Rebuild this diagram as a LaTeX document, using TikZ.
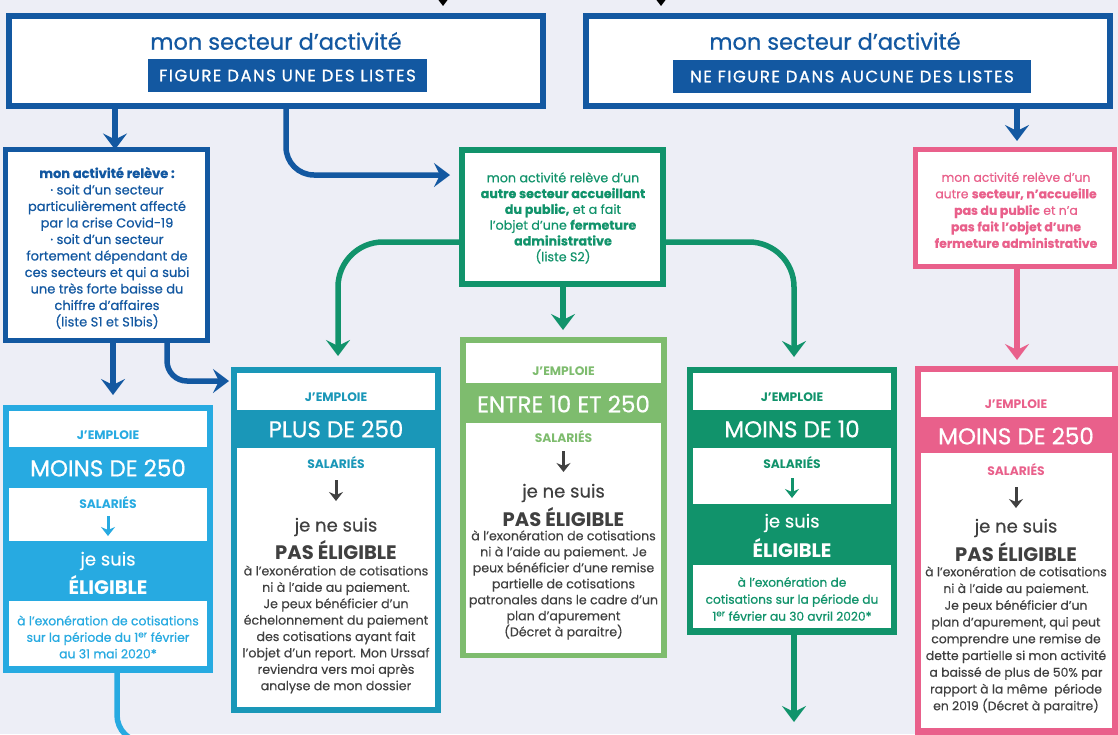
\documentclass[tikz,border=0pt]{standalone}
\usepackage{fontspec}
\setmainfont{Poppins}
\newfontfamily\pmed{Poppins}[FakeBold=0.7]
\newfontfamily\plit{Poppins}[FakeBold=0.3]
\newfontfamily\pban{Poppins}[FakeBold=0.9,LetterSpace=9]
\usetikzlibrary{arrows.meta}
\definecolor{bgc}{HTML}{EDEEF6}
\definecolor{dblue}{HTML}{1358A1}
\definecolor{lblue}{HTML}{27AAE1}
\definecolor{teal}{HTML}{1A97B8}
\definecolor{dgreen}{HTML}{11936B}
\definecolor{lgreen}{HTML}{7EBC6E}
\definecolor{pinkc}{HTML}{E9608B}
\definecolor{graytxt}{HTML}{404040}
\begin{document}
\begin{tikzpicture}[x=1pt,y=-1pt,
  every node/.style={inner sep=0pt, outer sep=0pt},
  frame/.style={draw=#1, fill=white, anchor=north west},
  colbox/.style={fill=#1, anchor=north west},
  panel/.style={fill=white, anchor=north west},
  conn/.style={draw=#1, line width=5.5pt, -{Stealth[length=16pt,width=24pt,inset=6pt]}},
  mini/.style={draw=#1, line width=3pt, -{Stealth[length=9pt,width=14pt,inset=3pt]}},
  txt/.style={align=center, text=#1},
  emp/.style={text=#1, font=\bfseries\fontsize{12.3}{14}\selectfont},
  band/.style={text=white, font=\pmed\fontsize{23}{26}\selectfont},
  eliga/.style={text=#1, font=\plit\fontsize{18}{21}\selectfont},
  eligb/.style={text=#1, font=\bfseries\fontsize{19.5}{22}\selectfont},
  body/.style={align=center, text=#1, font=\plit\fontsize{12.6}{16.4}\selectfont},
]
\useasboundingbox (0,0) rectangle (1118,734);
\clip (0,0) rectangle (1118,734);
\fill[bgc] (0,0) rectangle (1118,734);

% ---- top boxes
\node[frame=dblue, line width=6pt, minimum width=534pt, minimum height=90pt] (T1) at (9,16) {};
\node[frame=dblue, line width=6pt, minimum width=524pt, minimum height=90pt] (T2) at (586,16) {};
\node[text=dblue, font=\pmed\fontsize{22.5}{26}\selectfont] (t1) at (276,41) {mon secteur d’activité};
\node[text=dblue, font=\pmed\fontsize{22.5}{26}\selectfont] (t2) at (835,41) {mon secteur d’activité};
\node[colbox=dblue, minimum width=279pt, minimum height=33pt, text=white, font=\pban\fontsize{16.5}{18}\selectfont] (ban1) at (148,59) {FIGURE DANS UNE DES LISTES};
\node[colbox=dblue, minimum width=358pt, minimum height=33pt, text=white, font=\pban\fontsize{16.5}{18}\selectfont] (ban2) at (673,60) {NE FIGURE DANS AUCUNE DES LISTES};

% ---- second row
\node[frame=dblue, line width=5pt, minimum width=202pt, minimum height=191pt] (B1) at (5.5,149.5) {};
\node[txt=dblue, font=\pmed\fontsize{13}{16.5}\selectfont] (b1t) at (107,248) {\textbf{mon activité relève :}\\ · soit d’un secteur\\ particulièrement affecté\\ par la crise Covid-19\\ · soit d’un secteur\\ fortement dépendant de\\ ces secteurs et qui a subi\\ une très forte baisse du\\ chiffre d’affaires\\ {\plit(liste S1 et S1bis)}};

\node[frame=dgreen, line width=6pt, minimum width=201pt, minimum height=134pt] (G0) at (462,150) {};
\node[txt=dgreen, font=\plit\fontsize{12.7}{15.8}\selectfont] (g0t) at (563,218) {mon activité relève d’un\\ \textbf{autre secteur accueillant}\\ \textbf{du public,} et a fait\\ l’objet d’une \textbf{fermeture}\\ \textbf{administrative}\\ (liste S2)};

\node[frame=pinkc, line width=5pt, minimum width=199pt, minimum height=117pt] (P0) at (915.5,149.5) {};
\node[txt=pinkc, font=\plit\fontsize{12.4}{16.5}\selectfont] (p0t) at (1016,210) {mon activité relève d’un\\ autre \textbf{secteur, n’accueille}\\ \textbf{pas du public} et n’a\\ \textbf{pas fait l’objet d’une}\\ \textbf{fermeture administrative}};

% ---- bottom: light blue
\node[colbox=lblue, minimum width=210pt, minimum height=268pt] (L) at (3,405) {};
\node[panel, minimum width=198pt, minimum height=36pt] (L1) at (9,411) {};
\node[panel, minimum width=198pt, minimum height=53pt] (L2) at (9,488) {};
\node[panel, minimum width=198pt, minimum height=65pt] (L3) at (9,601) {};
\node[emp=lblue] (Lj) at (108,435) {J’EMPLOIE};
\node[band] (Lm) at (108,468) {MOINS DE 250};
\node[emp=lblue] (Ls) at (108,503) {SALARIÉS};
\coordinate (La) at (108,516);
\coordinate (Lb) at (108,536);
\draw[mini=lblue] (La) -- (Lb);
\node[eliga=white] (Le1) at (108,561) {je suis};
\node[eligb=white] (Le2) at (108,585) {ÉLIGIBLE};
\node[body=lblue, font=\pmed\fontsize{12.4}{16.5}\selectfont] (Lt) at (108,637) {à l’exonération de cotisations\\ sur la période du 1\textsuperscript{er} février\\ au 31 mai 2020*};

% ---- bottom: teal
\node[colbox=teal, minimum width=210pt, minimum height=346pt] (PL) at (231,367) {};
\node[panel, minimum width=198pt, minimum height=37pt] (PL1) at (237,373) {};
\node[panel, minimum width=198pt, minimum height=259pt] (PL2) at (237,448) {};
\node[emp=teal] (PLj) at (336,397) {J’EMPLOIE};
\node[band] (PLm) at (336,429) {PLUS DE 250};
\node[emp=teal] (PLs) at (336,463) {SALARIÉS};
\coordinate (PLa) at (336,480);
\coordinate (PLb) at (336,501);
\draw[mini=graytxt] (PLa) -- (PLb);
\node[eliga=graytxt] (PLe1) at (336,527) {je ne suis};
\node[eligb=graytxt] (PLe2) at (336,550) {PAS ÉLIGIBLE};
\node[body=graytxt] (PLt) at (336,629.5) {à l’exonération de cotisations\\ ni à l’aide au paiement.\\ Je peux bénéficier d’un\\ échelonnement du paiement\\ des cotisations ayant fait\\ l’objet d’un report. Mon Urssaf\\ reviendra vers moi après\\ analyse de mon dossier};

% ---- bottom: light green
\node[colbox=lgreen, minimum width=207pt, minimum height=321pt] (EN) at (460,337) {};
\node[panel, minimum width=195pt, minimum height=40pt] (EN1) at (466,343) {};
\node[panel, minimum width=195pt, minimum height=230pt] (EN2) at (466,423) {};
\node[emp=lgreen] (ENj) at (563.5,371) {J’EMPLOIE};
\node[band] (ENm) at (563.5,404) {ENTRE 10 ET 250};
\node[emp=lgreen] (ENs) at (563.5,437) {SALARIÉS};
\coordinate (ENa) at (563.5,451);
\coordinate (ENb) at (563.5,472);
\draw[mini=graytxt] (ENa) -- (ENb);
\node[eliga=graytxt] (ENe1) at (563.5,493) {je ne suis};
\node[eligb=graytxt] (ENe2) at (563.5,517) {PAS ÉLIGIBLE};
\node[body=graytxt, font=\plit\fontsize{12.6}{16}\selectfont] (ENt) at (563.5,585) {à l’exonération de cotisations\\ ni à l’aide au paiement. Je\\ peux bénéficier d’une remise\\ partielle de cotisations\\ patronales dans le cadre d’un\\ plan d’apurement\\ (Décret à paraitre)};

% ---- bottom: dark green
\node[colbox=dgreen, minimum width=210pt, minimum height=268pt] (M) at (687,367) {};
\node[panel, minimum width=198pt, minimum height=37pt] (M1) at (693,373) {};
\node[panel, minimum width=198pt, minimum height=56pt] (M2) at (693,448) {};
\node[panel, minimum width=198pt, minimum height=63pt] (M3) at (693,565) {};
\node[emp=dgreen] (Mj) at (792,397) {J’EMPLOIE};
\node[band] (Mm) at (792,429) {MOINS DE 10};
\node[emp=dgreen] (Ms) at (792,463) {SALARIÉS};
\coordinate (Ma) at (792,478);
\coordinate (Mb) at (792,498);
\draw[mini=dgreen] (Ma) -- (Mb);
\node[eliga=white] (Me1) at (792,523) {je suis};
\node[eligb=white] (Me2) at (792,548) {ÉLIGIBLE};
\node[body=dgreen, font=\pmed\fontsize{12.2}{17}\selectfont] (Mt) at (792,599) {à l’exonération de\\ cotisations sur la période du\\ 1\textsuperscript{er} février au 30 avril 2020*};

% ---- bottom: pink
\node[colbox=pinkc, minimum width=203pt, minimum height=380pt] (K) at (915,366) {};
\node[panel, minimum width=191pt, minimum height=45pt] (K1) at (921,372) {};
\node[panel, minimum width=191pt, minimum height=275pt] (K2) at (921,453) {};
\node[emp=pinkc] (Kj) at (1016,404) {J’EMPLOIE};
\node[band] (Km) at (1016,436) {MOINS DE 250};
\node[emp=pinkc] (Ks) at (1016,470) {SALARIÉS};
\coordinate (Ka) at (1016,487);
\coordinate (Kb) at (1016,508);
\draw[mini=graytxt] (Ka) -- (Kb);
\node[eliga=graytxt] (Ke1) at (1016,528) {je ne suis};
\node[eligb=graytxt] (Ke2) at (1016,552) {PAS ÉLIGIBLE};
\node[body=graytxt, font=\plit\fontsize{12.4}{16.75}\selectfont] (Kt) at (1016,640) {à l’exonération de cotisations\\ ni à l’aide au paiement.\\ Je peux bénéficier d’un\\ plan d’apurement, qui peut\\ comprendre une remise de\\ dette partielle si mon activité\\ a baissé de plus de 50\% par\\ rapport à la même\ \ période\\ en 2019 (Décret à paraitre)};

% ---- connectors
\coordinate (ta) at (443,-40);
\coordinate (tb) at (661,-40);
\draw[conn=black] (ta) -- ([yshift=10pt]T1.north -| ta);
\draw[conn=black] (tb) -- ([yshift=10pt]T2.north -| tb);

\coordinate (xa) at (115,0);
\draw[conn=dblue] (T1.south -| xa) -- (B1.north -| xa);
\coordinate (xb) at (286,0);
\coordinate (yb) at (0,175);
\draw[conn=dblue, rounded corners=28pt] (T1.south -| xb) |- ([xshift=-12pt]G0.west |- yb);

\coordinate (xc) at (113,0);
\draw[conn=dblue] (B1.south -| xc) -- ([yshift=10pt]L.north -| xc);
\coordinate (xd) at (167,0);
\coordinate (yd) at (0,381);
\draw[conn=dblue, rounded corners=20pt] (B1.south -| xd) |- ([xshift=-2pt]PL.west |- yd);

\coordinate (ye) at (0,242);
\coordinate (xe) at (338,0);
\draw[conn=dgreen, rounded corners=45pt] (G0.west |- ye) -| ([yshift=11pt]PL.north -| xe);
\coordinate (xf) at (563,0);
\draw[conn=dgreen] (G0.south -| xf) -- ([yshift=7pt]EN.north -| xf);
\coordinate (xg) at (794,0);
\draw[conn=dgreen, rounded corners=45pt] (G0.east |- ye) -| ([yshift=10pt]M.north -| xg);

\coordinate (xh) at (1017,0);
\draw[conn=dblue] (T2.south -| xh) -- ([yshift=8.5pt]P0.north -| xh);
\draw[conn=pinkc] (P0.south -| xh) -- ([yshift=6pt]K.north -| xh);

\coordinate (yi) at (0,722);
\draw[conn=dgreen] (M.south -| xg) -- (xg |- yi);

\coordinate (xj0) at (117,0);
\coordinate (xj) at (300,0);
\coordinate (yj) at (0,742);
\draw[draw=lblue, line width=5.5pt, rounded corners=27pt] (L.south -| xj0) |- (xj |- yj);
\end{tikzpicture}
\end{document}
